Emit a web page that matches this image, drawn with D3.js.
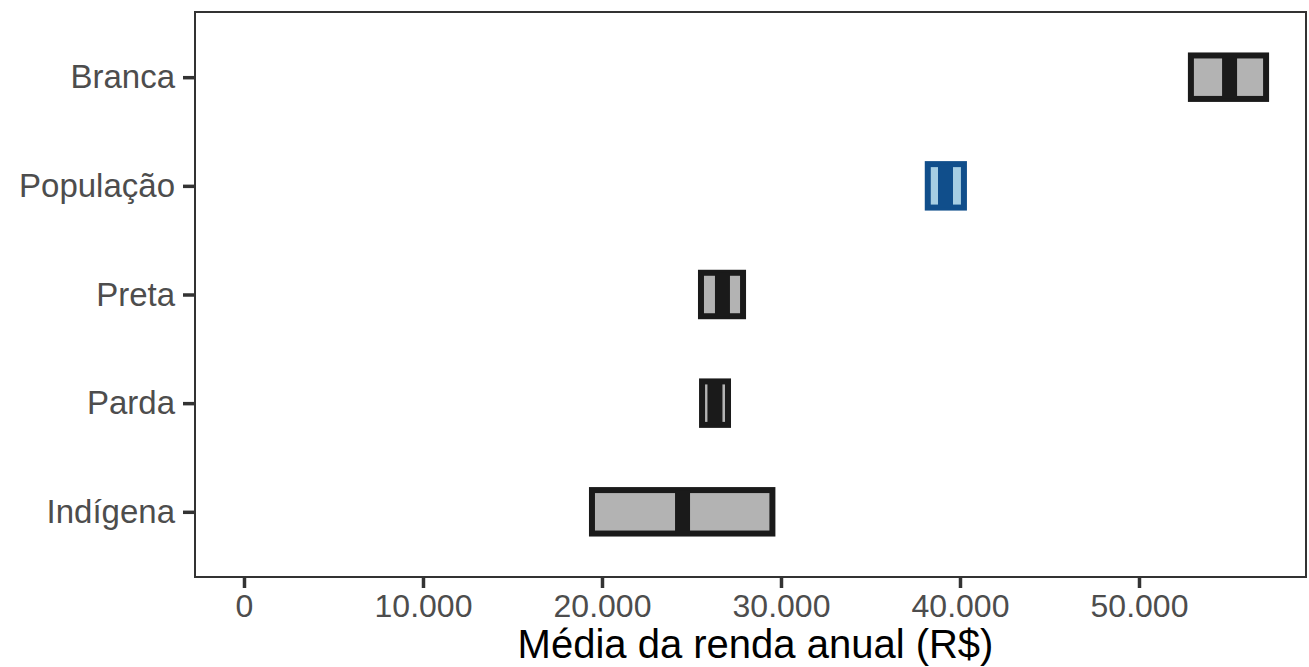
<!DOCTYPE html>
<html>
<head>
<meta charset="utf-8">
<script src="https://cdn.jsdelivr.net/npm/d3@7"></script>
<style>
  html, body { margin: 0; padding: 0; background: #fff; }
  svg { display: block; font-family: "Liberation Sans", Arial, sans-serif; }
</style>
</head>
<body>
<svg id="chart" width="1309" height="667"></svg>
<script>
const categories = ["Branca", "População", "Preta", "Parda", "Indígena"];
const lowerValues = [52900, 38200, 25530, 25590, 19440];
const meanValues  = [55060, 39190, 26730, 26310, 24500];
const upperValues = [57100, 40220, 27880, 27040, 29520];
const highlight   = ["População"];
const xTickValues = [0, 10000, 20000, 30000, 40000, 50000];
const xTickLabels = ["0", "10.000", "20.000", "30.000", "40.000", "50.000"];
const xTitle = "Média da renda anual (R$)";

const rows = categories.map((c, i) => ({
  cat: c, lo: lowerValues[i], mean: meanValues[i], hi: upperValues[i],
  hl: highlight.includes(c)
}));

const svg = d3.select("#chart");
const panel = { left: 195, right: 1306, top: 12, bottom: 577 };

const x = d3.scaleLinear().domain([-2737, 59330]).range([panel.left, panel.right]);
const y = d3.scalePoint().domain(categories).range([panel.top, panel.bottom]).padding(0.6);
const boxH = y.step() * 0.4;

// boxes
const g = svg.append("g");
rows.forEach(d => {
  const dark = d.hl ? "#104E8B" : "#1a1a1a";
  const fill = d.hl ? "#A6CEE3" : "#b3b3b3";
  g.append("rect")
    .attr("x", x(d.lo)).attr("y", y(d.cat) - boxH / 2)
    .attr("width", x(d.hi) - x(d.lo)).attr("height", boxH)
    .attr("fill", fill).attr("stroke", dark).attr("stroke-width", 6);
  g.append("line")
    .attr("x1", x(d.mean)).attr("x2", x(d.mean))
    .attr("y1", y(d.cat) - boxH / 2).attr("y2", y(d.cat) + boxH / 2)
    .attr("stroke", dark).attr("stroke-width", 15);
});

// panel border
svg.append("rect")
  .attr("x", panel.left).attr("y", panel.top)
  .attr("width", panel.right - panel.left).attr("height", panel.bottom - panel.top)
  .attr("fill", "none").attr("stroke", "#333333").attr("stroke-width", 2);

// x axis
const xAxis = d3.axisBottom(x).tickValues(xTickValues)
  .tickFormat((v, i) => xTickLabels[i]).tickSize(11).tickPadding(6);
const gx = svg.append("g").attr("transform", `translate(0,${panel.bottom})`).call(xAxis);
gx.select(".domain").remove();
gx.selectAll(".tick line").attr("stroke", "#333333").attr("stroke-width", 3.5);
gx.selectAll(".tick text").attr("fill", "#4d4d4d").attr("font-size", 32)
  .attr("font-family", "Liberation Sans, Arial, sans-serif");

// y axis
const yAxis = d3.axisLeft(y).tickSize(12).tickPadding(8);
const gy = svg.append("g").attr("transform", `translate(${panel.left},0)`).call(yAxis);
gy.select(".domain").remove();
gy.selectAll(".tick line").attr("stroke", "#333333").attr("stroke-width", 3.5);
gy.selectAll(".tick text").attr("fill", "#4d4d4d").attr("font-size", 33)
  .attr("font-family", "Liberation Sans, Arial, sans-serif");

// x title
svg.append("text")
  .attr("x", 755.5).attr("y", 658)
  .attr("text-anchor", "middle").attr("font-size", 40).attr("fill", "#000")
  .text(xTitle);
</script>
</body>
</html>
